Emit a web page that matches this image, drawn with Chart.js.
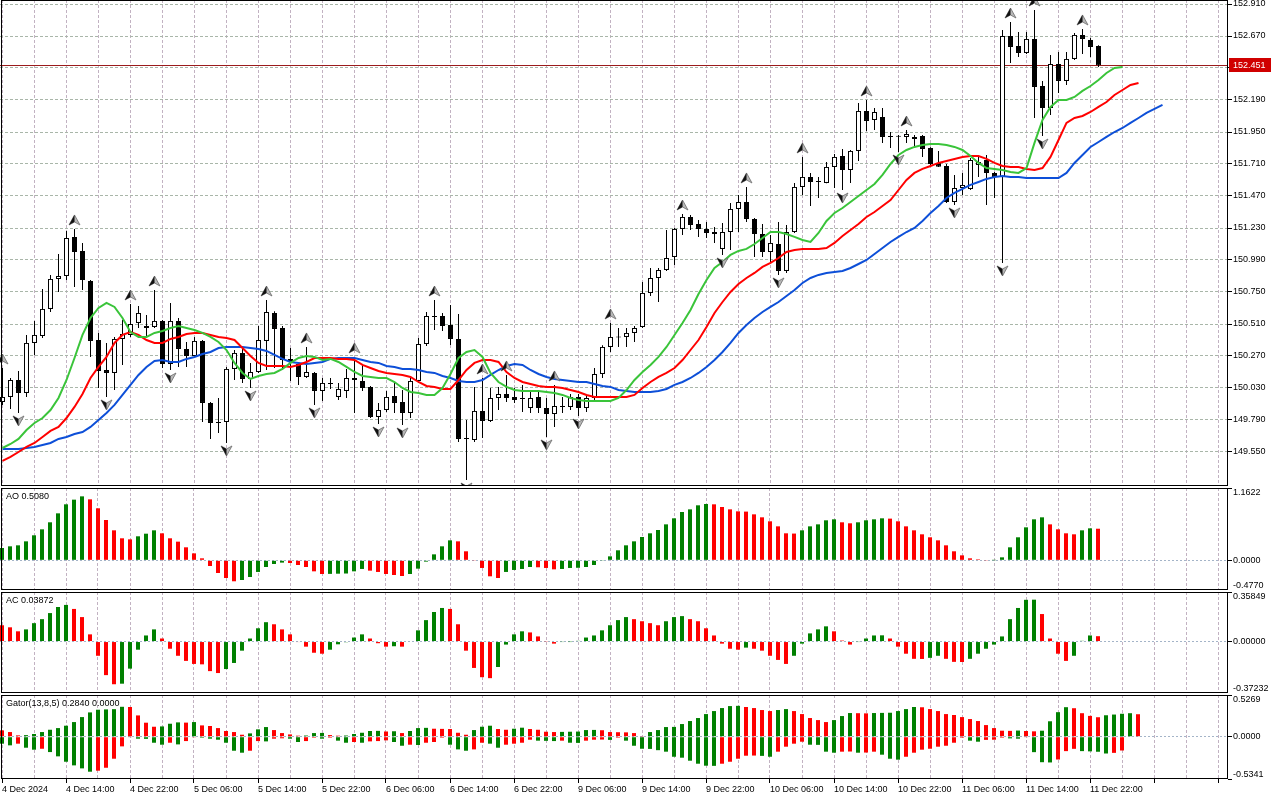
<!DOCTYPE html>
<html>
<head>
<meta charset="utf-8">
<title>USDJPY H1</title>
<script src="https://cdn.jsdelivr.net/npm/chart.js@4.4.1/dist/chart.umd.min.js"></script>
<style>
html, body { margin: 0; padding: 0; background: #fff; }
#wrap { position: relative; width: 1280px; height: 800px; overflow: hidden; background: #fff; }
#wrap canvas { position: absolute; left: 0; }
</style>
</head>
<body>
<div id="wrap">
  <canvas id="main" width="1280" height="486" style="top:0"></canvas>
  <canvas id="ao" width="1280" height="102" style="top:488px"></canvas>
  <canvas id="ac" width="1280" height="101" style="top:592px"></canvas>
  <canvas id="gator" width="1280" height="105" style="top:695px"></canvas>
</div>
<script>
// time axis labels, one every 8 hourly bars
const timeLabels = ['4 Dec 2024', '4 Dec 14:00', '4 Dec 22:00', '5 Dec 06:00', '5 Dec 14:00', '5 Dec 22:00',
  '6 Dec 06:00', '6 Dec 14:00', '6 Dec 22:00', '9 Dec 06:00', '9 Dec 14:00', '9 Dec 22:00',
  '10 Dec 06:00', '10 Dec 14:00', '10 Dec 22:00', '11 Dec 06:00', '11 Dec 14:00', '11 Dec 22:00'];

const opens = [149.925,149.963,150.09,149.993,150.368,150.42,150.623,150.848,150.87,151.163,
  151.058,150.833,150.39,150.165,150.143,150.398,150.428,150.518,150.495,150.488,
  150.533,150.21,150.533,150.323,150.27,150.383,149.918,149.775,149.775,150.173,
  150.293,150.098,150.15,150.383,150.593,150.48,150.248,150.21,150.113,150.143,
  150.008,150.068,149.963,150.008,150.105,150.083,150.038,149.813,149.865,149.97,
  149.925,149.843,150.083,150.36,150.57,150.57,150.503,150.398,149.655,149.64,
  149.858,149.783,149.955,149.985,149.963,149.955,149.88,149.963,149.88,149.835,
  149.895,149.888,149.963,149.88,149.955,150.135,150.338,150.408,150.413,150.443,
  150.488,150.743,150.855,150.915,151.013,151.223,151.313,151.26,151.223,151.2,
  151.073,151.2,151.373,151.425,151.298,151.185,151.05,151.11,150.908,151.2,
  151.538,151.613,151.583,151.568,151.688,151.77,151.665,151.808,152.108,152.04,
  152.063,151.92,151.92,151.913,151.898,151.92,151.83,151.718,151.695,151.425,
  151.53,151.523,151.703,151.74,151.643,151.613,152.67,152.595,152.543,152.648,
  152.295,152.13,152.46,152.333,152.498,152.678,152.64,152.595];
const highs = [150.18,150.105,150.158,150.428,150.533,150.773,150.878,151.035,151.208,151.223,
  151.118,150.84,150.443,150.368,150.413,150.54,150.66,150.645,150.578,150.765,
  150.54,150.668,150.555,150.375,150.413,150.39,149.925,149.955,150.188,150.315,
  150.33,150.218,150.495,150.69,150.605,150.495,150.33,150.225,150.338,150.15,
  150.105,150.105,150.068,150.173,150.263,150.21,150.045,149.918,150.008,150.068,
  150.015,150.113,150.405,150.6,150.69,150.593,150.653,150.585,149.79,150.038,
  150.105,150.03,150.038,150.128,150.03,150.053,150.015,150.015,149.955,150.053,
  149.963,149.985,149.985,149.978,150.18,150.35,150.518,150.48,150.48,150.495,
  150.825,150.93,150.93,151.215,151.23,151.335,151.328,151.29,151.275,151.238,
  151.268,151.418,151.478,151.538,151.305,151.26,151.178,151.275,151.253,151.568,
  151.763,151.643,151.613,151.725,151.785,151.823,151.815,152.168,152.19,152.13,
  152.13,151.95,151.928,151.965,151.928,151.928,151.835,151.808,151.71,151.628,
  151.643,151.755,151.763,151.778,151.65,152.715,152.775,152.7,152.7,152.865,
  152.333,152.528,152.55,152.55,152.693,152.723,152.655,152.6];
const lows = [149.903,149.873,149.843,149.963,150.278,150.405,150.6,150.75,150.84,150.788,
  150.765,150.263,150.03,149.963,150.015,150.203,150.413,150.48,150.413,150.48,
  150.18,150.165,150.188,150.188,150.263,149.775,149.648,149.693,149.618,150.09,
  150.068,150.03,150.143,150.165,150.18,150.165,150.083,150.053,150.105,149.903,
  149.933,150.023,149.94,149.955,149.843,150.008,149.805,149.76,149.85,149.843,
  149.753,149.805,150.068,150.345,150.465,150.458,150.353,149.625,149.34,149.625,
  149.655,149.775,149.865,149.925,149.918,149.85,149.843,149.843,149.663,149.738,
  149.843,149.865,149.82,149.85,149.94,150.105,150.3,150.338,150.338,150.375,
  150.48,150.72,150.675,150.908,150.953,151.178,151.215,151.163,151.155,151.118,
  151.028,151.065,151.2,151.275,151.013,151.013,150.968,150.878,150.893,151.193,
  151.478,151.395,151.455,151.565,151.53,151.515,151.568,151.733,151.958,151.965,
  151.868,151.83,151.8,151.868,151.838,151.763,151.688,151.688,151.418,151.403,
  151.478,151.515,151.613,151.403,151.455,150.968,152.468,152.513,152.535,152.055,
  151.92,152.078,152.243,152.303,152.49,152.535,152.513,152.438];
const closes = [149.963,150.09,149.993,150.368,150.428,150.623,150.848,150.87,151.155,151.05,
  150.84,150.383,150.158,150.143,150.398,150.435,150.51,150.593,150.48,150.533,
  150.21,150.533,150.323,150.27,150.383,149.918,149.768,149.768,150.173,150.293,
  150.098,150.15,150.39,150.6,150.473,150.24,150.225,150.113,150.15,150.008,
  150.068,150.06,150.023,150.105,150.09,150.03,149.813,149.865,149.963,149.918,
  149.843,150.083,150.36,150.57,150.563,150.495,150.398,149.648,149.648,149.858,
  149.783,149.955,149.985,149.955,149.94,149.948,149.955,149.88,149.835,149.895,
  149.888,149.963,149.88,149.955,150.135,150.338,150.413,150.413,150.443,150.48,
  150.743,150.855,150.915,151.005,151.223,151.313,151.253,151.223,151.193,151.185,
  151.2,151.373,151.425,151.298,151.185,151.05,151.118,150.908,151.2,151.538,
  151.613,151.575,151.575,151.688,151.763,151.665,151.808,152.108,152.033,152.1,
  151.913,151.913,151.915,151.935,151.913,151.823,151.71,151.69,151.425,151.53,
  151.553,151.74,151.725,151.643,151.613,152.67,152.588,152.543,152.648,152.288,
  152.13,152.46,152.333,152.498,152.678,152.648,152.588,152.451];

// Alligator lines as drawn (already shifted forward: jaw 8, teeth 5, lips 3 bars)
const jaw = [149.573,149.573,149.573,149.58,149.588,149.603,149.618,149.648,149.663,149.685,
  149.7,149.738,149.79,149.843,149.903,149.978,150.053,150.128,150.188,150.233,
  150.24,150.225,150.225,150.248,150.263,150.285,150.3,150.33,150.338,150.338,
  150.338,150.33,150.323,150.308,150.278,150.248,150.225,150.218,150.21,150.218,
  150.225,150.248,150.255,150.255,150.255,150.24,150.225,150.218,150.195,150.188,
  150.173,150.173,150.165,150.15,150.143,150.12,150.105,150.083,150.075,150.075,
  150.09,150.128,150.165,150.195,150.21,150.203,150.165,150.135,150.113,150.098,
  150.09,150.083,150.075,150.075,150.06,150.045,150.038,150.015,150.008,150.0,
  150.0,150.0,150.008,150.023,150.053,150.075,150.105,150.143,150.188,150.24,
  150.3,150.368,150.443,150.503,150.555,150.6,150.638,150.675,150.72,150.765,
  150.818,150.855,150.878,150.893,150.9,150.908,150.93,150.96,150.99,151.035,
  151.08,151.125,151.163,151.2,151.23,151.283,151.343,151.395,151.455,151.493,
  151.523,151.553,151.575,151.598,151.613,151.62,151.613,151.613,151.605,151.605,
  151.605,151.605,151.605,151.643,151.718,151.778,151.838,151.875,151.913,151.95,
  151.98,152.018,152.055,152.093,152.123,152.153];
const teeth = [149.483,149.513,149.55,149.588,149.618,149.663,149.708,149.738,149.805,149.888,
  149.985,150.105,150.188,150.263,150.368,150.428,150.45,150.428,150.39,150.368,
  150.368,150.398,150.413,150.435,150.443,150.443,150.428,150.413,150.405,150.39,
  150.33,150.27,150.218,150.195,150.195,150.195,150.188,150.203,150.225,150.255,
  150.255,150.255,150.248,150.248,150.24,150.203,150.18,150.158,150.143,150.135,
  150.128,150.113,150.075,150.045,150.038,150.023,150.023,150.09,150.165,150.218,
  150.24,150.24,150.225,150.15,150.105,150.075,150.06,150.045,150.038,150.038,
  150.03,150.015,150.0,149.978,149.963,149.963,149.963,149.963,149.963,149.978,
  150.03,150.075,150.113,150.143,150.18,150.24,150.315,150.39,150.488,150.593,
  150.675,150.75,150.81,150.855,150.893,150.938,150.968,151.005,151.05,151.065,
  151.073,151.073,151.073,151.08,151.118,151.17,151.215,151.26,151.313,151.35,
  151.395,151.44,151.515,151.59,151.643,151.673,151.695,151.718,151.733,151.748,
  151.763,151.77,151.77,151.748,151.718,151.695,151.688,151.688,151.673,151.665,
  151.68,151.763,151.89,152.018,152.055,152.07,152.1,152.138,152.175,152.228,
  152.265,152.303,152.318];
const lips = [149.58,149.61,149.648,149.715,149.768,149.805,149.865,149.955,150.09,150.255,
  150.428,150.555,150.63,150.668,150.638,150.555,150.45,150.413,150.413,150.443,
  150.458,150.48,150.495,150.48,150.465,150.443,150.413,150.375,150.315,150.218,
  150.143,150.098,150.12,150.135,150.143,150.173,150.218,150.255,150.27,150.263,
  150.24,150.248,150.225,150.188,150.15,150.12,150.113,150.105,150.105,150.075,
  150.03,150.0,149.993,149.978,149.978,150.03,150.135,150.255,150.3,150.315,
  150.263,150.143,150.075,150.038,150.015,150.008,150.008,150.008,150.0,149.993,
  149.978,149.955,149.94,149.933,149.933,149.933,149.933,149.955,150.015,150.09,
  150.15,150.203,150.263,150.338,150.428,150.518,150.615,150.735,150.84,150.93,
  150.975,151.028,151.058,151.073,151.11,151.155,151.2,151.2,151.185,151.163,
  151.14,151.125,151.193,151.283,151.343,151.38,151.425,151.47,151.515,151.56,
  151.628,151.71,151.778,151.815,151.838,151.853,151.86,151.86,151.853,151.838,
  151.815,151.77,151.718,151.68,151.673,151.665,151.65,151.643,151.68,151.868,
  152.04,152.138,152.19,152.19,152.213,152.258,152.295,152.34,152.393,152.43,
  152.438];

// bar numbers that carry a fractal arrow
const upFractals = [0, 9, 16, 19, 33, 38, 44, 54, 60, 63, 69, 76, 85, 93, 100, 108, 113, 126, 129, 135];
const downFractals = [2, 13, 21, 28, 31, 39, 47, 50, 58, 68, 72, 90, 97, 105, 112, 119, 125, 130];

const aoValues = [0.198,0.225,0.241,0.305,0.402,0.498,0.611,0.755,0.900,0.975,
  1.028,0.980,0.836,0.648,0.482,0.354,0.337,0.386,0.428,0.482,
  0.434,0.354,0.300,0.209,0.112,0.032,-0.091,-0.204,-0.284,-0.337,
  -0.316,-0.268,-0.187,-0.107,-0.059,-0.037,-0.043,-0.075,-0.107,-0.177,
  -0.220,-0.218,-0.215,-0.212,-0.177,-0.139,-0.166,-0.187,-0.220,-0.236,
  -0.252,-0.220,-0.134,-0.021,0.096,0.225,0.321,0.305,0.145,-0.011,
  -0.123,-0.257,-0.284,-0.187,-0.155,-0.139,-0.107,-0.112,-0.123,-0.145,
  -0.139,-0.123,-0.120,-0.107,-0.075,-0.011,0.064,0.161,0.241,0.305,
  0.375,0.434,0.487,0.578,0.675,0.777,0.819,0.884,0.905,0.900,
  0.857,0.819,0.787,0.783,0.739,0.691,0.627,0.546,0.434,0.430,
  0.482,0.546,0.578,0.643,0.659,0.611,0.595,0.611,0.643,0.659,
  0.675,0.670,0.627,0.546,0.482,0.418,0.370,0.321,0.241,0.145,
  0.080,0.032,0.016,-0.005,0.002,0.048,0.209,0.370,0.530,0.659,
  0.691,0.578,0.498,0.434,0.418,0.482,0.514,0.508];
const acValues = [0.118,0.103,0.074,0.088,0.133,0.162,0.206,0.250,0.265,0.236,
  0.177,0.052,-0.103,-0.243,-0.309,-0.305,-0.196,-0.059,0.044,0.088,
  0.022,-0.052,-0.103,-0.140,-0.162,-0.165,-0.214,-0.228,-0.199,-0.155,
  -0.066,0.022,0.096,0.140,0.125,0.088,0.052,-0.003,-0.037,-0.081,
  -0.088,-0.059,-0.020,-0.005,0.029,0.052,0.022,-0.012,-0.037,-0.034,
  -0.037,0.000,0.081,0.155,0.214,0.243,0.236,0.125,-0.066,-0.191,
  -0.258,-0.265,-0.184,-0.022,0.052,0.074,0.066,0.037,0.002,-0.015,
  -0.002,-0.001,0.005,0.029,0.044,0.081,0.118,0.155,0.177,0.162,
  0.147,0.133,0.118,0.147,0.177,0.184,0.162,0.147,0.096,0.044,
  -0.015,-0.052,-0.059,-0.044,-0.052,-0.066,-0.103,-0.133,-0.162,-0.103,
  -0.015,0.059,0.088,0.110,0.074,0.007,-0.022,-0.002,0.022,0.044,
  0.045,0.022,-0.037,-0.088,-0.125,-0.126,-0.118,-0.103,-0.125,-0.147,
  -0.148,-0.125,-0.088,-0.052,-0.022,0.037,0.162,0.243,0.302,0.303,
  0.199,0.022,-0.088,-0.140,-0.103,0.005,0.044,0.03872];
const gatorUpper = [0.080,0.059,0.017,0.020,0.034,0.059,0.088,0.109,0.139,0.185,
  0.248,0.307,0.341,0.345,0.348,0.378,0.375,0.269,0.177,0.126,
  0.130,0.164,0.181,0.178,0.185,0.143,0.135,0.109,0.072,0.059,
  0.025,0.042,0.093,0.122,0.084,0.046,0.029,0.013,0.015,0.046,
  0.048,0.021,0.013,0.015,0.034,0.050,0.072,0.074,0.066,0.069,
  0.046,0.072,0.109,0.112,0.101,0.099,0.097,0.050,0.025,0.084,
  0.126,0.139,0.097,0.088,0.101,0.114,0.097,0.088,0.063,0.059,
  0.061,0.063,0.065,0.084,0.086,0.082,0.059,0.057,0.055,0.046,
  0.004,0.059,0.084,0.122,0.124,0.160,0.198,0.236,0.286,0.324,
  0.362,0.387,0.390,0.375,0.362,0.337,0.324,0.337,0.349,0.324,
  0.286,0.236,0.210,0.185,0.210,0.261,0.299,0.297,0.295,0.299,
  0.301,0.303,0.324,0.349,0.375,0.372,0.349,0.324,0.286,0.274,
  0.248,0.223,0.198,0.147,0.109,0.076,0.074,0.078,0.072,0.068,
  0.076,0.195,0.310,0.373,0.360,0.297,0.263,0.246,0.271,0.280,
  0.290,0.297,0.284];
const gatorLower = [-0.088,-0.109,-0.088,-0.139,-0.164,-0.152,-0.194,-0.248,-0.316,-0.362,
  -0.400,-0.442,-0.429,-0.392,-0.278,-0.122,-0.005,-0.025,-0.027,-0.076,
  -0.101,-0.076,-0.097,-0.055,-0.004,-0.013,-0.025,-0.038,-0.076,-0.177,
  -0.202,-0.177,-0.055,-0.059,-0.025,-0.020,-0.025,-0.067,-0.055,-0.013,
  -0.025,-0.013,-0.050,-0.076,-0.067,-0.076,-0.059,-0.055,-0.046,-0.067,
  -0.114,-0.101,-0.105,-0.076,-0.067,-0.013,-0.101,-0.160,-0.177,-0.160,
  -0.076,-0.088,-0.139,-0.101,-0.088,-0.076,-0.038,-0.050,-0.052,-0.055,
  -0.050,-0.076,-0.078,-0.050,-0.038,-0.036,-0.040,-0.013,-0.050,-0.114,
  -0.152,-0.154,-0.170,-0.189,-0.253,-0.265,-0.303,-0.341,-0.366,-0.368,
  -0.341,-0.316,-0.278,-0.240,-0.238,-0.242,-0.253,-0.189,-0.126,-0.088,
  -0.063,-0.101,-0.103,-0.189,-0.202,-0.189,-0.187,-0.202,-0.200,-0.189,
  -0.227,-0.278,-0.290,-0.253,-0.202,-0.164,-0.152,-0.126,-0.114,-0.076,
  -0.013,-0.050,-0.063,-0.040,-0.038,-0.013,-0.021,-0.025,-0.005,-0.195,
  -0.322,-0.325,-0.288,-0.182,-0.153,-0.182,-0.185,-0.190,-0.212,-0.204,
  -0.174];

const priceTicks = [149.55, 149.79, 150.03, 150.27, 150.51, 150.75, 150.99, 151.23, 151.47, 151.71, 151.95, 152.19, 152.43, 152.67, 152.91];
const hiddenPriceTick = 152.43;
const priceRange = [149.295, 152.94];
const aoRange = [-0.4770, 1.1622];
const acRange = [-0.37232, 0.35849];
const gatorRange = [-0.5341, 0.5269];

const BAR_PX = 8, AREA_W = 1228;
const UP = '#008000', DOWN = '#ff0000';
const GRID_V = '#c2b2c2', GRID_H = '#a9b6a9', ZERO_LINE = '#a4b4c8';
const FONT = '9px "Liberation Sans", Arial, sans-serif';

Chart.defaults.font.family = '"Liberation Sans", Arial, sans-serif';
Chart.defaults.font.size = 9;
Chart.defaults.color = '#000';

const common = {
  responsive: false, animation: false, devicePixelRatio: 1, events: [],
  layout: { padding: 0, autoPadding: false },
  plugins: { legend: { display: false }, tooltip: { enabled: false } }
};

function xScale(offsetPx, showLabels) {
  const min = -offsetPx / BAR_PX;
  return {
    type: 'linear', min: min, max: min + AREA_W / BAR_PX, offset: false,
    afterBuildTicks: s => {
      s.ticks = [];
      for (let k = 0; k <= s.max; k += 4) s.ticks.push({ value: k });
    },
    afterFit: s => { s.height = showLabels ? 21 : 0; s.paddingLeft = 0; s.paddingRight = 0; },
    grid: {
      offset: false, color: GRID_V, drawTicks: showLabels, tickLength: 4,
      tickColor: c => (c.tick && c.tick.value % 8 === 0) ? '#000' : 'rgba(0,0,0,0)'
    },
    border: { display: false, dash: [3, 2] },
    ticks: {
      display: showLabels, autoSkip: false, maxRotation: 0, align: 'start', padding: 1,
      callback: v => (v % 8 === 0 && timeLabels[v / 8]) ? timeLabels[v / 8] : ''
    }
  };
}

function frame(ctx, a) {
  ctx.strokeStyle = '#000';
  ctx.lineWidth = 1;
  ctx.strokeRect(a.left + 1.5, a.top + 0.5, a.right - a.left - 2, a.bottom - a.top - 1);
}

// MT style fractal arrow, offset inside the sprite so it sits off the high / low
function arrowSprite(up) {
  const c = document.createElement('canvas');
  c.width = 13; c.height = 32;
  const g = c.getContext('2d');
  const cy = up ? 7 : 24, d = up ? 1 : -1;
  g.beginPath();
  g.moveTo(6.5, cy - 5 * d); g.lineTo(12, cy + 5 * d); g.lineTo(6.5, cy + 2 * d); g.lineTo(1, cy + 5 * d);
  g.closePath();
  g.fillStyle = '#b8b8b8'; g.fill();
  g.strokeStyle = '#6a6a6a'; g.lineWidth = 0.8; g.stroke();
  g.beginPath();
  g.moveTo(6.5, cy - 5 * d); g.lineTo(6.5, cy + 2 * d); g.lineTo(1, cy + 5 * d);
  g.closePath();
  g.fillStyle = '#111'; g.fill();
  return c;
}

function trendColors(values, firstUp, useAbs) {
  return values.map((v, k) => {
    if (k === 0) return firstUp ? UP : DOWN;
    const cur = useAbs ? Math.abs(v) : v, prev = useAbs ? Math.abs(values[k - 1]) : values[k - 1];
    return cur >= prev ? UP : DOWN;
  });
}

const toPoints = arr => arr.map((v, k) => ({ x: k, y: v }));
const lastClose = closes[closes.length - 1];

const mainDecor = {
  id: 'mainDecor',
  beforeDatasetsDraw(chart) {
    const { ctx, chartArea: a, scales: { y } } = chart;
    const py = Math.round(y.getPixelForValue(lastClose)) + 0.5;
    ctx.save();
    ctx.strokeStyle = '#9b1c1c'; ctx.lineWidth = 1;
    ctx.beginPath(); ctx.moveTo(a.left, py); ctx.lineTo(a.right, py); ctx.stroke();
    ctx.restore();
  },
  afterDraw(chart) {
    const { ctx, chartArea: a, scales: { y } } = chart;
    ctx.save();
    frame(ctx, a);
    const py = Math.round(y.getPixelForValue(lastClose));
    ctx.fillStyle = '#d00000';
    ctx.fillRect(a.right + 1, py - 7, 42, 14);
    ctx.fillStyle = '#fff'; ctx.font = FONT;
    ctx.textAlign = 'left'; ctx.textBaseline = 'middle';
    ctx.fillText(lastClose.toFixed(3), a.right + 5, py + 0.5);
    ctx.restore();
  }
};

new Chart(document.getElementById('main'), {
  type: 'bar',
  data: {
    datasets: [
      { type: 'bar', data: highs.map((h, k) => ({ x: k, y: [lows[k], h] })), barThickness: 1,
        backgroundColor: '#000', borderWidth: 0, grouped: false, inflateAmount: 0, order: 6 },
      { type: 'bar', data: opens.map((o, k) => ({ x: k, y: [o, closes[k]] })), barThickness: 5,
        backgroundColor: opens.map((o, k) => closes[k] >= o ? '#fff' : '#000'),
        borderColor: '#000', borderWidth: 1, borderSkipped: false, minBarLength: 1,
        grouped: false, inflateAmount: 0, order: 5 },
      { type: 'line', data: toPoints(jaw), borderColor: '#0d4fd8', borderWidth: 2, pointRadius: 0, tension: 0, order: 4 },
      { type: 'line', data: toPoints(teeth), borderColor: '#ff0000', borderWidth: 2, pointRadius: 0, tension: 0, order: 3 },
      { type: 'line', data: toPoints(lips), borderColor: '#3ac43a', borderWidth: 2, pointRadius: 0, tension: 0, order: 2 },
      { type: 'scatter', data: upFractals.map(k => ({ x: k, y: highs[k] })), pointStyle: arrowSprite(true), pointRadius: 5, order: 1 },
      { type: 'scatter', data: downFractals.map(k => ({ x: k, y: lows[k] })), pointStyle: arrowSprite(false), pointRadius: 5, order: 1 }
    ]
  },
  options: Object.assign({}, common, {
    scales: {
      x: xScale(2.5, false),
      y: {
        position: 'right', min: priceRange[0], max: priceRange[1],
        afterBuildTicks: s => { s.ticks = priceTicks.map(v => ({ value: v })); },
        afterFit: s => { s.width = 52; s.paddingTop = 0; s.paddingBottom = 0; },
        grid: { color: GRID_H, tickLength: 4, tickColor: '#000' },
        border: { display: false, dash: [3, 2] },
        ticks: { autoSkip: false, padding: 1,
          callback: v => Math.abs(v - hiddenPriceTick) < 1e-6 ? '' : v.toFixed(3) }
      }
    }
  }),
  plugins: [mainDecor]
});

function subDecor(title, range, digits) {
  return {
    id: 'subDecor',
    afterDraw(chart) {
      const { ctx, chartArea: a, scales: { y } } = chart;
      ctx.save();
      frame(ctx, a);
      ctx.fillStyle = '#000'; ctx.font = FONT; ctx.textAlign = 'left';
      ctx.textBaseline = 'middle';
      ctx.fillText(title, a.left + 6, a.top + 9);
      const x = a.right + 5;
      ctx.textBaseline = 'top'; ctx.fillText(range[1].toFixed(digits), x, a.top);
      ctx.textBaseline = 'middle'; ctx.fillText((0).toFixed(digits), x, y.getPixelForValue(0));
      ctx.textBaseline = 'bottom'; ctx.fillText(range[0].toFixed(digits), x, a.bottom);
      ctx.restore();
    }
  };
}

function histogram(id, datasets, range, title, digits, showTime) {
  return new Chart(document.getElementById(id), {
    type: 'bar',
    data: { datasets: datasets },
    options: Object.assign({}, common, {
      scales: {
        x: xScale(2, showTime),
        y: {
          position: 'right', min: range[0], max: range[1],
          afterBuildTicks: s => { s.ticks = [range[0], 0, range[1]].map(v => ({ value: v })); },
          afterFit: s => { s.width = 52; s.paddingTop = 0; s.paddingBottom = 0; },
          grid: { color: c => (c.tick && c.tick.value === 0) ? ZERO_LINE : 'rgba(0,0,0,0)', tickLength: 4, tickColor: '#000' },
          border: { display: false, dash: [2, 2] },
          ticks: { display: false }
        }
      }
    }),
    plugins: [subDecor(title, range, digits)]
  });
}

const barStyle = { barThickness: 4, borderWidth: 0, inflateAmount: 0, grouped: false };

histogram('ao', [Object.assign({ data: toPoints(aoValues), backgroundColor: trendColors(aoValues, true, false) }, barStyle)],
  aoRange, 'AO ' + aoValues[aoValues.length - 1].toFixed(4), 4, false);

histogram('ac', [Object.assign({ data: toPoints(acValues), backgroundColor: trendColors(acValues, false, false) }, barStyle)],
  acRange, 'AC ' + acValues[acValues.length - 1].toFixed(5), 5, false);

histogram('gator', [
  Object.assign({ data: toPoints(gatorUpper), backgroundColor: trendColors(gatorUpper, false, false) }, barStyle),
  Object.assign({ data: toPoints(gatorLower), backgroundColor: trendColors(gatorLower, true, true) }, barStyle)
], gatorRange, 'Gator(13,8,5) ' + gatorUpper[gatorUpper.length - 1].toFixed(4) + ' ' + (0).toFixed(4), 4, true);
</script>
</body>
</html>
